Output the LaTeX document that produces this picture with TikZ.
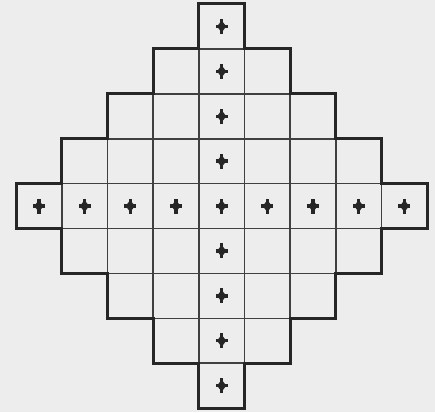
\documentclass[tikz,border=0pt]{standalone}
\begin{document}
\begin{tikzpicture}[x=1pt,y=-1pt,
  thinline/.style={draw=black!75,line width=1.6pt},
  thickline/.style={draw=black!85,line width=3pt,line join=miter},
  crossmark/.style={fill=black!85}]
\fill[black!7] (0,0) rectangle (435,412);
\useasboundingbox (0,0) rectangle (435,412);
\def\gx#1{16+45.7*#1}
\def\gy#1{4+44.9*#1}
% cells (thin grid)
\foreach \r in {0,...,8}{
  \pgfmathtruncatemacro{\w}{4-abs(\r-4)}
  \pgfmathtruncatemacro{\cmin}{4-\w}
  \pgfmathtruncatemacro{\cmax}{4+\w}
  \foreach \c in {\cmin,...,\cmax}{
    \draw[thinline] ({\gx{\c}},{\gy{\r}}) rectangle ({\gx{(\c+1)}},{\gy{(\r+1)}});
  }
}
% outer staircase outline
\draw[thickline]
  ({\gx{4}},{\gy{0}}) -- ({\gx{5}},{\gy{0}}) -- ({\gx{5}},{\gy{1}}) -- ({\gx{6}},{\gy{1}})
  -- ({\gx{6}},{\gy{2}}) -- ({\gx{7}},{\gy{2}}) -- ({\gx{7}},{\gy{3}}) -- ({\gx{8}},{\gy{3}})
  -- ({\gx{8}},{\gy{4}}) -- ({\gx{9}},{\gy{4}}) -- ({\gx{9}},{\gy{5}}) -- ({\gx{8}},{\gy{5}})
  -- ({\gx{8}},{\gy{6}}) -- ({\gx{7}},{\gy{6}}) -- ({\gx{7}},{\gy{7}}) -- ({\gx{6}},{\gy{7}})
  -- ({\gx{6}},{\gy{8}}) -- ({\gx{5}},{\gy{8}}) -- ({\gx{5}},{\gy{9}}) -- ({\gx{4}},{\gy{9}})
  -- ({\gx{4}},{\gy{8}}) -- ({\gx{3}},{\gy{8}}) -- ({\gx{3}},{\gy{7}}) -- ({\gx{2}},{\gy{7}})
  -- ({\gx{2}},{\gy{6}}) -- ({\gx{1}},{\gy{6}}) -- ({\gx{1}},{\gy{5}}) -- ({\gx{0}},{\gy{5}})
  -- ({\gx{0}},{\gy{4}}) -- ({\gx{1}},{\gy{4}}) -- ({\gx{1}},{\gy{3}}) -- ({\gx{2}},{\gy{3}})
  -- ({\gx{2}},{\gy{2}}) -- ({\gx{3}},{\gy{2}}) -- ({\gx{3}},{\gy{1}}) -- ({\gx{4}},{\gy{1}})
  -- cycle;
% cross marks
\newcommand\mymark[2]{%
  \path ({\gx{(#1+0.5)}},{\gy{(#2+0.5)}}) coordinate (m);
  \fill[crossmark] (m) +(-1.7,-7.5) rectangle +(1.7,7.5);
  \fill[crossmark] (m) +(-6,-1.7) rectangle +(6,1.7);
  \fill[crossmark] (m) +(0,-6) -- +(4.6,0) -- +(0,6) -- +(-4.6,0) -- cycle;}
\foreach \c in {0,...,8}{\mymark{\c}{4}}
\foreach \r in {0,1,2,3,5,6,7,8}{\mymark{4}{\r}}
\end{tikzpicture}
\end{document}
